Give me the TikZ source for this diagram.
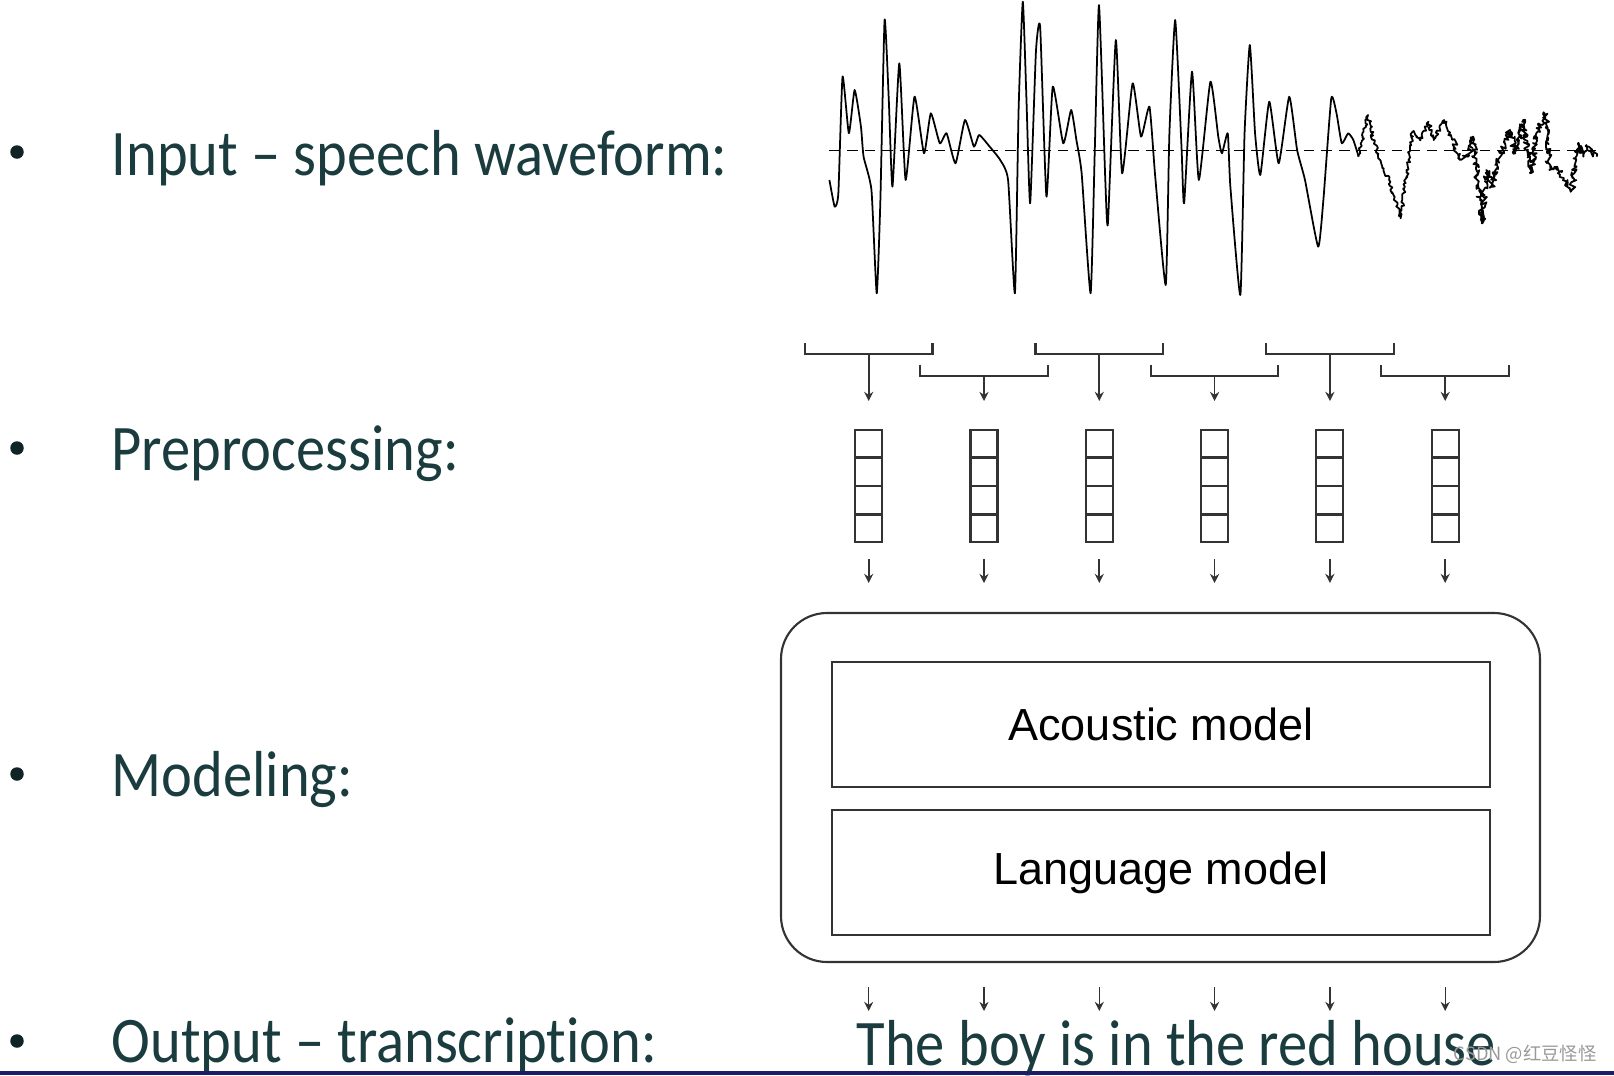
\documentclass[tikz,border=0pt]{standalone}
\usepackage{fontspec}
\setmainfont{Carlito}[FakeStretch=0.9,Ligatures={NoCommon,NoContextual}]
\newfontfamily\arialfont{Liberation Sans}
\newfontfamily\cjkfont{Noto Sans CJK SC}
\usepackage{tikz}
\usetikzlibrary{calc,positioning,arrows.meta,decorations.pathmorphing}
\definecolor{myteal}{RGB}{26,60,62}
\definecolor{mynavy}{RGB}{28,28,104}
\definecolor{mygray}{RGB}{51,51,51}
\tikzstyle{bultxt}=[inner sep=0pt,text=myteal,font=\fontsize{18.5}{22}\selectfont]
\tikzstyle{dot}=[circle,fill=myteal!60!black,minimum size=1.35mm,inner sep=0pt]
\tikzstyle{featvec}=[draw=mygray,line width=0.6pt,minimum width=2.7mm,minimum height=11.2mm,inner sep=0pt]
\tikzstyle{modelbox}=[draw=mygray,line width=0.6pt,minimum width=65.8mm,minimum height=12.5mm,font=\arialfont\fontsize{12.8}{15}\selectfont]
\tikzstyle{outerbox}=[draw=mygray,line width=0.6pt,rounded corners=4.6mm,minimum width=75.9mm,minimum height=34.9mm]
\tikzstyle{arr}=[draw=mygray,-{Stealth[length=2.6pt,width=2.6pt]},line width=0.5pt]
\tikzstyle{brk}=[draw=mygray,line width=0.6pt]
\tikzstyle{wave}=[line width=0.5pt,line join=round]
\begin{document}
\begin{tikzpicture}[x=0.1mm,y=-0.1mm]
\useasboundingbox (0,0) rectangle (1614,1075);
\fill[white] (0,0) rectangle (1614,1075);

% bullets on the left
\node[dot] (d1) at (17,152) {};
\node[dot] (d2) at (17,448) {};
\node[dot] (d3) at (17,774) {};
\node[dot] (d4) at (17,1041) {};
\node[bultxt, anchor=base west] (tin) at (111,175) {Input – speech waveform:};
\node[bultxt, anchor=base west] (tpre) at (111,470) {Preprocessing:};
\node[bultxt, anchor=base west] (tmod) at (111,796) {Modeling:};
\node[bultxt, anchor=base west] (tout) at (111,1062) {Output – transcription:};

% speech waveform
\begin{scope}[shift={(790,0)},xscale=0.5255,yscale=0.3333]
\draw[black, densely dashed, line width=0.4pt] (75,452) -- (1535,452);
\draw[wave] plot[smooth,tension=0.3] coordinates {(75,540) (85,620) (92,580) (100,230) (112,400) (123,270) (135,380) (140,470) (155,570) (165,880) (172,600) (180,60) (188,300) (195,560) (208,190) (220,540) (237,290) (255,460) (268,340) (285,430) (298,400) (315,490) (333,360) (350,440) (360,405) (380,440) (400,480) (415,540) (428,880) (435,330) (443,5) (450,300) (457,610) (468,155) (476,80) (488,590) (500,260) (520,430) (535,330) (545,420) (555,520) (572,880) (580,450) (588,15) (600,540) (605,670) (620,120) (632,520) (652,250) (668,410) (684,320) (695,530) (715,855) (722,400) (733,60) (745,440) (750,610) (765,215) (778,540) (800,245) (815,410) (822,460) (833,400) (838,560) (857,885) (865,400) (875,135) (885,400) (895,525) (912,305) (930,490) (950,290) (965,450) (980,540) (1005,740) (1015,600) (1030,295) (1040,340) (1050,430) (1062,400) (1072,420) (1082,470)};
\pgfmathsetseed{7}
\draw[wave, decorate, decoration={random steps,segment length=0.5pt,amplitude=0.5pt}] plot coordinates {(1082,470) (1100,345) (1110,420) (1125,490) (1140,540) (1162,655) (1170,560) (1180,450) (1185,395) (1200,420) (1215,365) (1225,420) (1245,360) (1260,420)};
\draw[wave, decorate, decoration={random steps,segment length=0.4pt,amplitude=0.9pt}] plot coordinates {(1260,420) (1275,480) (1290,470) (1300,410) (1308,540) (1318,670) (1325,510) (1335,560) (1345,490) (1360,430) (1370,390) (1380,460) (1395,360) (1410,520) (1420,400) (1438,345) (1445,510) (1460,500) (1472,540) (1488,570) (1500,430) (1510,470) (1520,440) (1535,470)};
\end{scope}

% modeling
\node[outerbox] (outer) at (1160.5,787.5) {};
\node[modelbox] (am) at (1161,724.5) {Acoustic model};
\node[modelbox] (lm) at (1161,872.5) {Language model};

% frames, feature vectors and arrows
\foreach \i in {0,...,5} {
  \pgfmathsetmacro\cx{868.7+115.3*\i}
  \pgfmathsetmacro\by{354+21.7*mod(\i,2)}
  \coordinate (br\i) at (\cx,\by);
  \draw[brk] ($(br\i)+(-63.8,-11)$) -- ++(0,11) -- ++(127.6,0) -- ++(0,-11);
  \coordinate (ba\i) at (\cx,401);
  \draw[arr] (br\i) -- (ba\i);
  \node[featvec] (fv\i) at (\cx,486) {};
  \foreach \k in {1,2,3}
    \draw[draw=mygray,line width=0.6pt] ($(fv\i.north west)!\k/4!(fv\i.south west)$) -- ($(fv\i.north east)!\k/4!(fv\i.south east)$);
  \coordinate (fa\i) at (\cx,583);
  \draw[arr] ($(fv\i.south)+(0,16)$) -- (fa\i);
  \coordinate (oa\i) at (\cx,1011);
  \draw[arr,line width=0.4pt] ($(fv\i.south |- outer.south)+(0,24)$) -- (oa\i);
}

\node[bultxt, anchor=base west] (sent) at (856,1065) {The boy is in the red house};
\node[anchor=base east, inner sep=0pt, text=black!40, font=\cjkfont\fontsize{5.2}{6}\selectfont] (wm) at (1597,1060) {CSDN @红豆怪怪};
\fill[mynavy] (0,1071) rectangle (1614,1075);
\end{tikzpicture}
\end{document}
